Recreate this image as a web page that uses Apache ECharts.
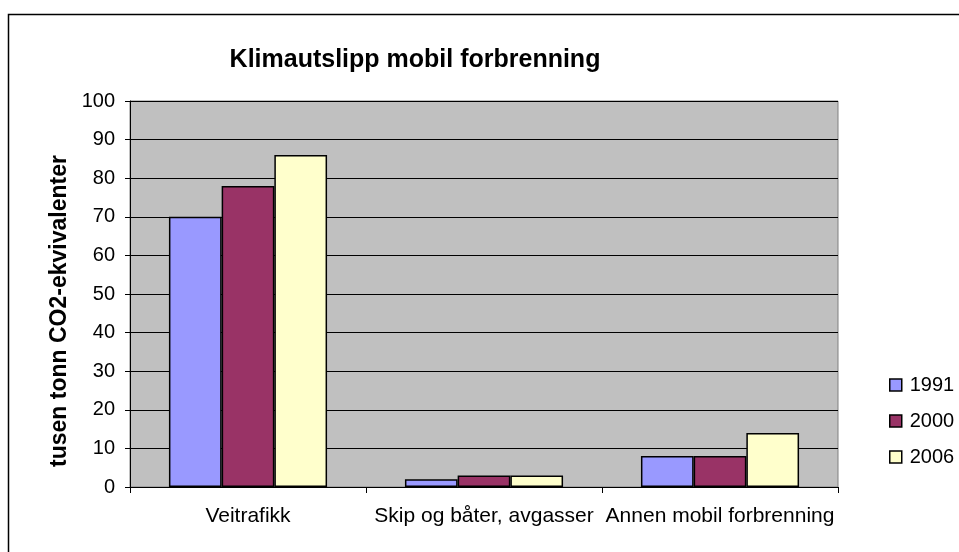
<!DOCTYPE html>
<html style="height:100%;">
<head>
	<meta charset="utf-8" />
	<title>Klimautslipp mobil forbrenning</title>
	<script type="text/javascript" src="https://cdn.jsdelivr.net/npm/echarts@6/dist/echarts.min.js"></script>
</head>
<body style="margin:0;padding:0;height:100%;background:#fff;">
	<div id="chart" style="width:959px;height:552px;"></div>
	<script type="text/javascript">
		// data
		const categories = ["Veitrafikk", "Skip og båter, avgasser", "Annen mobil forbrenning"];
		const years = ["1991", "2000", "2006"];
		const v1991 = [70, 2, 8];
		const v2000 = [78, 3, 8];
		const v2006 = [86, 3, 14];
		const colors = ["#9999FF", "#993366", "#FFFFCC"];

		const font = "Arial, 'Liberation Sans', sans-serif";
		const chart = echarts.init(document.getElementById("chart"));

		const seriesData = [v1991, v2000, v2006];
		const series = years.map(function (y, i) {
			return {
				name: y,
				type: "bar",
				data: seriesData[i],
				barGap: "0%",
				barCategoryGap: "33%",
				itemStyle: {
					color: colors[i],
					borderColor: "#000",
					borderWidth: 1.5
				},
				emphasis: { disabled: true }
			};
		});

		chart.setOption({
			animation: false,
			textStyle: { fontFamily: font },
			// chart frame: only left and top edges fall inside the picture
			graphic: [{
				type: "rect",
				shape: { x: 8.5, y: 14.5, width: 1000, height: 600 },
				style: { fill: "none", stroke: "#000", lineWidth: 1.5 },
				silent: true
			}],
			title: {
				text: "Klimautslipp mobil forbrenning",
				left: 410,
				textAlign: "center",
				top: 43,
				textStyle: { fontFamily: font, fontSize: 25, fontWeight: "bold", color: "#000" }
			},
			legend: {
				orient: "vertical",
				left: 884,
				top: 370,
				itemWidth: 12,
				itemHeight: 12,
				itemGap: 16,
				icon: "rect",
				itemStyle: { borderColor: "#000", borderWidth: 1.5 },
				textStyle: { fontFamily: font, fontSize: 20, color: "#000", padding: [0, 0, 0, 3] },
				data: years
			},
			grid: {
				left: 130,
				top: 101,
				width: 708,
				height: 386,
				show: true,
				backgroundColor: "#C0C0C0",
				borderColor: "#808080",
				borderWidth: 1
			},
			xAxis: {
				type: "category",
				data: categories,
				boundaryGap: true,
				axisLine: { lineStyle: { color: "#000", width: 1 } },
				axisTick: { show: true, length: 6, lineStyle: { color: "#000" } },
				axisLabel: { interval: 0, hideOverlap: false, fontFamily: font, fontSize: 21, color: "#000", margin: 19 }
			},
			yAxis: {
				type: "value",
				min: 0,
				max: 100,
				interval: 10,
				name: "tusen tonn CO2-ekvivalenter",
				nameLocation: "middle",
				nameGap: 58,
				nameTextStyle: { fontFamily: font, fontSize: 23, fontWeight: "bold", color: "#000", padding: [0, 34, 0, 0] },
				axisLine: { show: true, lineStyle: { color: "#000", width: 1 } },
				axisTick: { show: true, length: 5, lineStyle: { color: "#000" } },
				axisLabel: { fontFamily: font, fontSize: 20, color: "#000", margin: 15 },
				splitLine: { show: true, lineStyle: { color: "#000", width: 1 } }
			},
			series: series
		});
	</script>
</body>
</html>
